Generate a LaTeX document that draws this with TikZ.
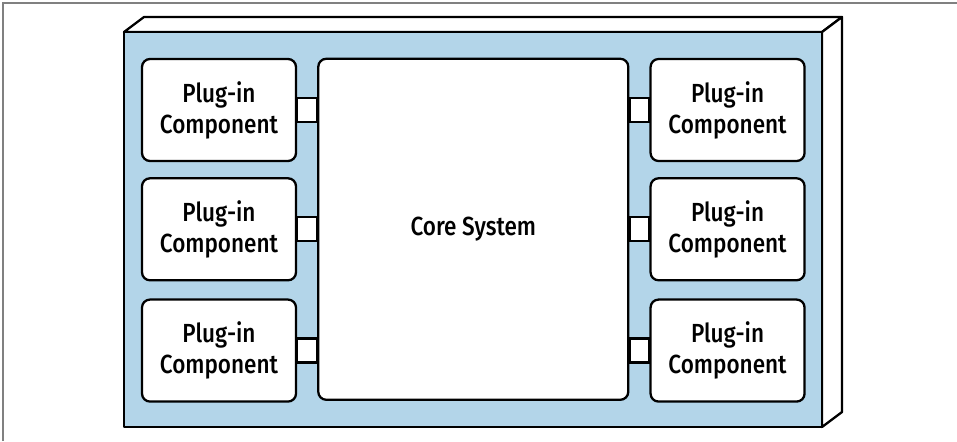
\documentclass[tikz,border=0pt]{standalone}
\usepackage{fontspec}
\setmainfont[FakeStretch=0.86, UprightFont={* Medium}]{Fira Sans}
\usepackage{xcolor}
\usetikzlibrary{positioning,calc}
\definecolor{panelblue}{RGB}{179,213,233}
\tikzset{
  plugin/.style={draw, line width=1.3pt, rounded corners=0.16cm, fill=white,
    minimum width=3.08cm, minimum height=2.04cm, inner sep=0pt, align=center},
  coresys/.style={plugin, minimum width=6.2cm, minimum height=6.82cm},
  plugbar/.style={draw, line width=1.3pt, fill=white},
  shell/.style={draw, line width=1.3pt, line join=round},
}

\begin{document}
\begin{tikzpicture}[font=\fontsize{14.9}{17.6}\selectfont]
\useasboundingbox (0,0) rectangle (19.14,8.82);
% page frame
\draw[gray, line width=0.6pt] (0.06,0) -- (0.06,8.76) -- (19.14,8.76);
% box in 3d: top, side, front
\draw[shell, fill=white] (2.48,8.18) -- (2.88,8.48) -- (16.84,8.48) -- (16.44,8.18) -- cycle;
\draw[shell, fill=white] (16.44,8.18) -- (16.84,8.48) -- (16.84,0.58) -- (16.44,0.28) -- cycle;
\draw[shell, fill=panelblue] (2.48,0.28) rectangle (16.44,8.18);
% plug-ins on the left
\node[plugin] (p1) at (4.38,6.62) {Plug-in\\Component};
\node[plugin, below=0.30cm of p1] (p2) {Plug-in\\Component};
\node[plugin, below=0.34cm of p2] (p3) {Plug-in\\Component};
% core
\node[coresys, right=0.40cm of p2] (core) {Core System};
% plug-ins on the right
\node[plugin, right=0.40cm of core] (q2) {Plug-in\\Component};
\node[plugin, above=0.30cm of q2] (q1) {Plug-in\\Component};
\node[plugin, below=0.34cm of q2] (q3) {Plug-in\\Component};
% sockets
\draw[plugbar] ($(p1.east)+(0,0.24)$) rectangle ($(p1.east -| core.west)+(0,-0.24)$);
\draw[plugbar] ($(p2.east)+(0,0.24)$) rectangle ($(p2.east -| core.west)+(0,-0.24)$);
\draw[plugbar] ($(p3.east)+(0,0.24)$) rectangle ($(p3.east -| core.west)+(0,-0.24)$);
\draw[plugbar] ($(q1.west)+(0,0.24)$) rectangle ($(q1.west -| core.east)+(0,-0.24)$);
\draw[plugbar] ($(q2.west)+(0,0.24)$) rectangle ($(q2.west -| core.east)+(0,-0.24)$);
\draw[plugbar] ($(q3.west)+(0,0.24)$) rectangle ($(q3.west -| core.east)+(0,-0.24)$);
\end{tikzpicture}
\end{document}
